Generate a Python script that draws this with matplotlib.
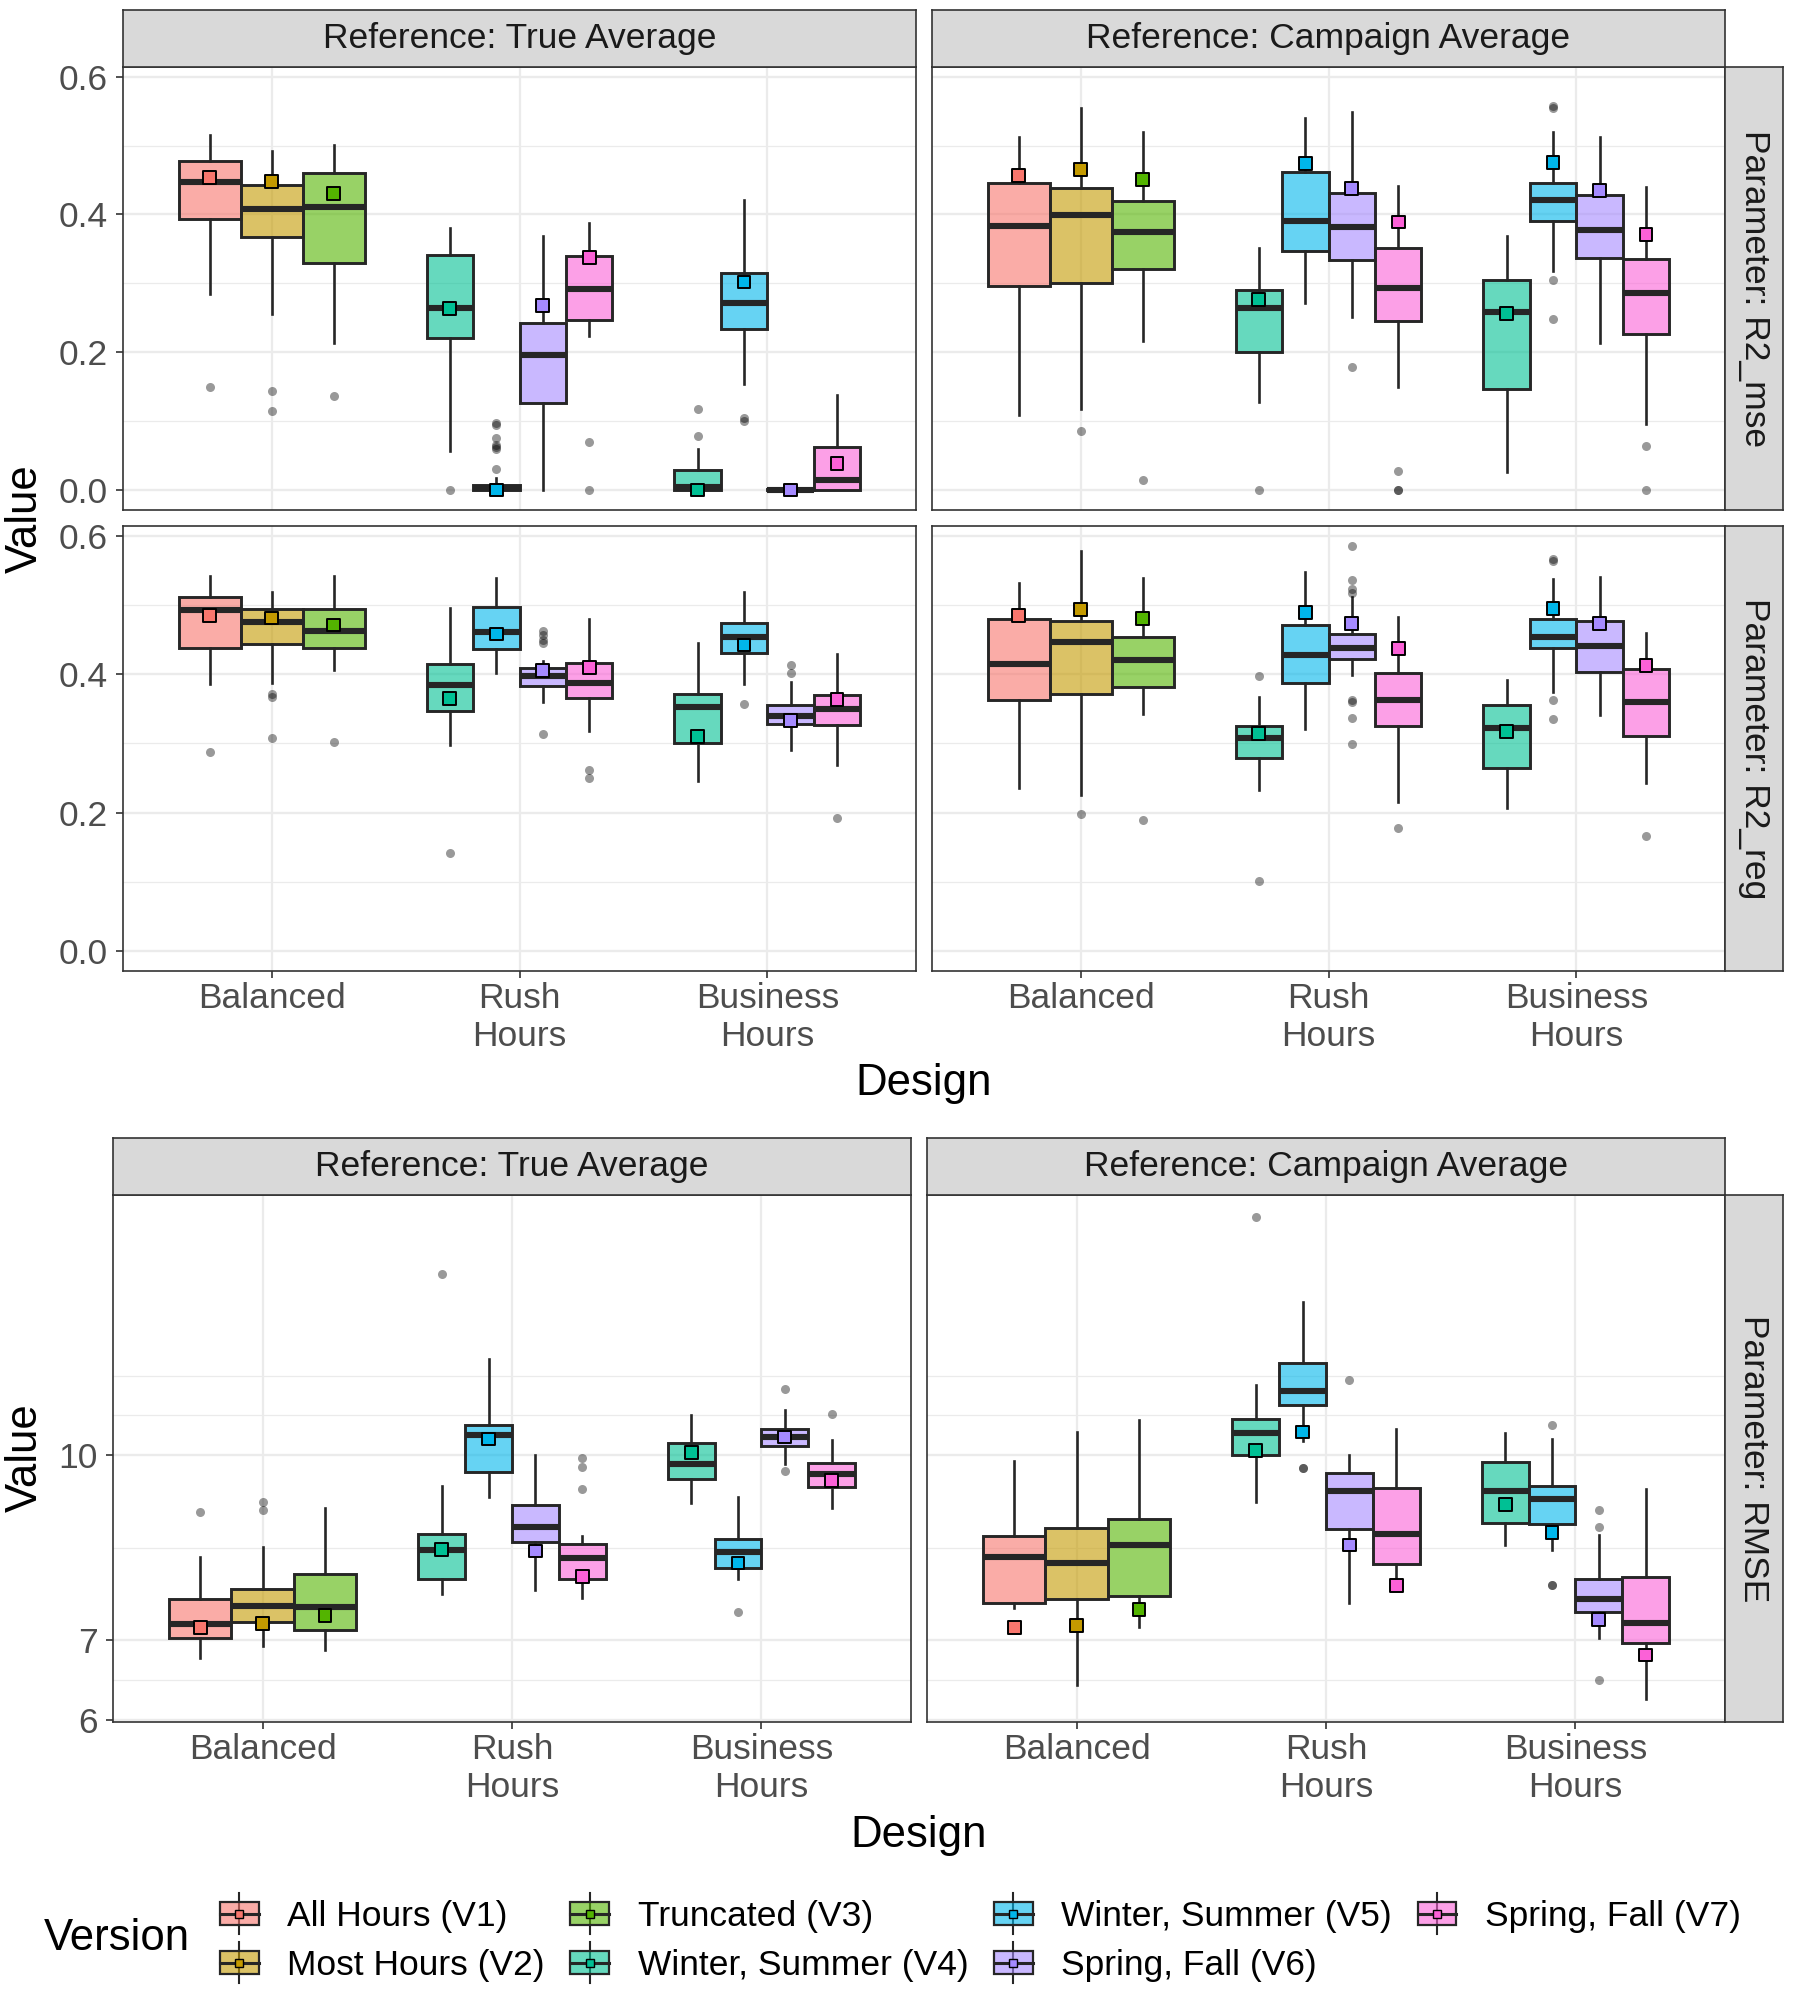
import numpy as np
import matplotlib
matplotlib.use("Agg")
import matplotlib.pyplot as plt
from matplotlib.patches import Rectangle, Patch
from matplotlib.lines import Line2D
from matplotlib.legend_handler import HandlerBase
from matplotlib.colors import to_rgba
from matplotlib.ticker import FixedLocator, NullLocator, FixedFormatter

plt.rcParams['font.family'] = ['Liberation Sans', 'DejaVu Sans']

# ---------------- data ----------------
versions = ["All Hours (V1)", "Most Hours (V2)", "Truncated (V3)", "Winter, Summer (V4)",
            "Winter, Summer (V5)", "Spring, Fall (V6)", "Spring, Fall (V7)"]
version_colors = ["#F8766D", "#C49A00", "#53B400", "#00C094", "#00B6EB", "#A58AFF", "#FB61D7"]
designs = ["Balanced", "Rush\nHours", "Business\nHours"]
design_versions = [[0, 1, 2], [3, 4, 5, 6], [3, 4, 5, 6]]
references = ["Reference: True Average", "Reference: Campaign Average"]
parameters = ["Parameter: R2_mse", "Parameter: R2_reg", "Parameter: RMSE"]

# R2_mse, True Average (box order: Balanced V1-V3, Rush V4-V7, Business V4-V7)
mse_true_lo = [0.284, 0.255, 0.213, 0.056, 0.000, 0.000, 0.224, 0.000, 0.154, 0.000, 0.000]
mse_true_q1 = [0.393, 0.367, 0.330, 0.220, 0.000, 0.127, 0.247, 0.000, 0.234, 0.000, 0.000]
mse_true_med = [0.447, 0.408, 0.411, 0.264, 0.003, 0.196, 0.292, 0.004, 0.271, 0.000, 0.015]
mse_true_q3 = [0.477, 0.443, 0.460, 0.341, 0.008, 0.243, 0.340, 0.029, 0.315, 0.002, 0.062]
mse_true_hi = [0.515, 0.492, 0.501, 0.380, 0.018, 0.369, 0.388, 0.060, 0.421, 0.004, 0.138]
mse_true_mean = [0.454, 0.448, 0.430, 0.264, 0.000, 0.268, 0.337, 0.000, 0.302, 0.000, 0.039]
mse_true_out = [[0.150], [0.143, 0.115], [0.136], [0.0],
                [0.097, 0.095, 0.076, 0.066, 0.063, 0.060, 0.031], [], [0.070, 0.0],
                [0.118, 0.079], [0.104, 0.100], [], []]

# R2_mse, Campaign Average
mse_camp_lo = [0.109, 0.117, 0.216, 0.128, 0.272, 0.251, 0.149, 0.026, 0.318, 0.214, 0.096]
mse_camp_q1 = [0.296, 0.300, 0.321, 0.201, 0.347, 0.334, 0.245, 0.146, 0.391, 0.337, 0.227]
mse_camp_med = [0.383, 0.399, 0.375, 0.264, 0.390, 0.382, 0.293, 0.258, 0.421, 0.378, 0.286]
mse_camp_q3 = [0.446, 0.438, 0.419, 0.290, 0.461, 0.431, 0.352, 0.305, 0.446, 0.428, 0.336]
mse_camp_hi = [0.512, 0.555, 0.520, 0.352, 0.540, 0.549, 0.441, 0.369, 0.520, 0.512, 0.440]
mse_camp_mean = [0.456, 0.465, 0.451, 0.276, 0.474, 0.438, 0.389, 0.256, 0.475, 0.435, 0.371]
mse_camp_out = [[], [0.085], [0.015], [0.0], [], [0.178], [0.028, 0.0, 0.0], [],
                [0.557, 0.555, 0.305, 0.248], [], [0.064, 0.0]]

# R2_reg, True Average
reg_true_lo = [0.386, 0.387, 0.406, 0.297, 0.402, 0.359, 0.318, 0.245, 0.386, 0.291, 0.268]
reg_true_q1 = [0.437, 0.444, 0.437, 0.346, 0.436, 0.383, 0.365, 0.300, 0.431, 0.328, 0.327]
reg_true_med = [0.492, 0.475, 0.463, 0.384, 0.461, 0.397, 0.387, 0.353, 0.454, 0.339, 0.350]
reg_true_q3 = [0.512, 0.494, 0.494, 0.415, 0.497, 0.409, 0.416, 0.371, 0.474, 0.355, 0.370]
reg_true_hi = [0.542, 0.519, 0.542, 0.495, 0.539, 0.419, 0.480, 0.445, 0.519, 0.389, 0.429]
reg_true_mean = [0.485, 0.481, 0.471, 0.365, 0.458, 0.405, 0.410, 0.310, 0.442, 0.333, 0.363]
reg_true_out = [[0.288], [0.371, 0.367, 0.307], [0.302], [0.141], [],
                [0.463, 0.457, 0.449, 0.445, 0.314], [0.262, 0.250], [], [0.357],
                [0.413, 0.402], [0.192]]

# R2_reg, Campaign Average
reg_camp_lo = [0.235, 0.225, 0.343, 0.233, 0.321, 0.399, 0.215, 0.207, 0.374, 0.341, 0.242]
reg_camp_q1 = [0.362, 0.371, 0.382, 0.279, 0.387, 0.422, 0.325, 0.264, 0.437, 0.403, 0.310]
reg_camp_med = [0.415, 0.446, 0.420, 0.308, 0.428, 0.437, 0.362, 0.322, 0.454, 0.441, 0.360]
reg_camp_q3 = [0.480, 0.477, 0.453, 0.325, 0.471, 0.458, 0.402, 0.355, 0.480, 0.477, 0.407]
reg_camp_hi = [0.531, 0.578, 0.539, 0.367, 0.547, 0.511, 0.483, 0.392, 0.537, 0.541, 0.459]
reg_camp_mean = [0.485, 0.493, 0.480, 0.314, 0.489, 0.473, 0.437, 0.317, 0.495, 0.473, 0.412]
reg_camp_out = [[], [0.198], [0.189], [0.397, 0.101], [],
                [0.585, 0.536, 0.523, 0.517, 0.362, 0.360, 0.337, 0.299], [0.177], [],
                [0.566, 0.564, 0.363, 0.335], [], [0.166]]

# RMSE, True Average
rmse_true_lo = [6.763, 6.921, 6.868, 7.656, 9.236, 7.720, 7.596, 9.130, 7.882, 9.840, 9.027]
rmse_true_q1 = [7.027, 7.256, 7.146, 7.882, 9.691, 8.457, 7.882, 9.558, 8.046, 10.18, 9.413]
rmse_true_med = [7.228, 7.482, 7.460, 8.334, 10.40, 8.717, 8.203, 9.840, 8.296, 10.36, 9.640]
rmse_true_q3 = [7.574, 7.733, 7.960, 8.586, 10.61, 9.082, 8.432, 10.25, 8.509, 10.52, 9.856]
rmse_true_hi = [8.221, 8.381, 9.027, 9.434, 12.05, 10.00, 8.555, 10.81, 9.222, 10.91, 10.30]
rmse_true_mean = [7.173, 7.228, 7.345, 8.334, 10.32, 8.315, 7.913, 10.05, 8.126, 10.36, 9.530]
rmse_true_out = [[8.957], [9.148, 8.999], [], [14.19], [], [], [9.954, 9.781, 9.363], [],
                 [7.396], [11.36, 9.70], [10.83]]

# RMSE, Campaign Average
rmse_camp_lo = [7.45, 6.420, 7.178, 9.148, 10.29, 7.516, 7.792, 8.412, 8.326, 7.027, 6.255]
rmse_camp_q1 = [7.516, 7.586, 7.625, 10.00, 11.02, 8.674, 8.116, 8.785, 8.759, 7.396, 6.963]
rmse_camp_med = [8.221, 8.126, 8.412, 10.44, 11.31, 9.327, 8.586, 9.342, 9.201, 7.574, 7.234]
rmse_camp_q3 = [8.555, 8.694, 8.842, 10.72, 11.94, 9.669, 9.384, 9.878, 9.434, 7.882, 7.913]
rmse_camp_hi = [9.90, 10.46, 10.70, 11.45, 13.44, 10.00, 10.53, 10.45, 10.33, 8.575, 9.377]
rmse_camp_mean = [7.173, 7.20, 7.425, 10.09, 10.46, 8.412, 7.78, 9.10, 8.620, 7.29, 6.804]
rmse_camp_out = [[], [], [], [15.82], [9.766, 9.766], [11.57], [], [],
                 [10.61, 7.792, 7.792], [8.999, 8.706, 6.48], []]

top_yticks = [0.0, 0.2, 0.4, 0.6]
top_yticklabels = ["0.0", "0.2", "0.4", "0.6"]
top_yminor = [0.1, 0.3, 0.5]
rmse_yticks = [6, 7, 10]
rmse_yticklabels = ["6", "7", "10"]
rmse_yminor = [6.48, 8.37, 10.80, 11.65]

# ---------------- style ----------------
W, H = 1800, 1989
EDGE = "#262626"
BORDER = "#333333"
GRID = "#EBEBEB"
TICKTXT = "#4D4D4D"
FS_TICK = 25.5
FS_TITLE = 31.5
ALPHA = 0.6

fig = plt.figure(figsize=(W / 100, H / 100), dpi=100)


def px_axes(x0, y0, x1, y1, **kw):
    return fig.add_axes([x0 / W, 1 - y1 / H, (x1 - x0) / W, (y1 - y0) / H], **kw)


positions, widths, box_colors = [], [], []
for d, vs in enumerate(design_versions):
    n = len(vs)
    w = 0.75 / n
    for i, v in enumerate(vs):
        positions.append(d + 1 + (i - (n - 1) / 2) * w)
        widths.append(w)
        box_colors.append(version_colors[v])


def style_spines(ax):
    for s in ax.spines.values():
        s.set_color(BORDER)
        s.set_linewidth(1.2)


def draw_panel(ax, lo, q1, med, q3, hi, mean, out, log, ylim, yticks, ylabels, yminor,
               show_y, show_x):
    if log:
        ax.set_yscale("log")
    ax.set_xlim(0.4, 3.6)
    ax.set_ylim(*ylim)
    for m in yminor:
        ax.axhline(m, color=GRID, lw=0.9, zorder=0)
    for m in yticks:
        ax.axhline(m, color=GRID, lw=1.7, zorder=0)
    for xc in range(1, len(designs) + 1):
        ax.axvline(xc, color=GRID, lw=1.6, zorder=0)
    stats = [dict(med=med[i], q1=q1[i], q3=q3[i], whislo=lo[i], whishi=hi[i], fliers=out[i])
             for i in range(len(med))]
    art = ax.bxp(stats, positions=positions, widths=widths, patch_artist=True,
                 showcaps=False, showfliers=True, manage_ticks=False,
                 boxprops=dict(edgecolor=EDGE, linewidth=2.1),
                 medianprops=dict(color=EDGE, linewidth=4.4, solid_capstyle="butt"),
                 whiskerprops=dict(color=EDGE, linewidth=1.9),
                 flierprops=dict(marker="o", markerfacecolor="black", markeredgecolor="none",
                                 alpha=0.4, markersize=6.5))
    for patch, c in zip(art["boxes"], box_colors):
        patch.set_facecolor(to_rgba(c, ALPHA))
    ax.scatter(positions, mean, marker="s", s=85, c=box_colors, edgecolors="black",
               linewidths=1.4, zorder=5)
    ax.yaxis.set_major_locator(FixedLocator(yticks))
    ax.yaxis.set_major_formatter(FixedFormatter(ylabels))
    ax.yaxis.set_minor_locator(NullLocator())
    ax.set_xticks(range(1, len(designs) + 1))
    ax.set_xticklabels(designs)
    ax.tick_params(axis="y", length=5 if show_y else 0, width=1.2, color=BORDER,
                   labelsize=FS_TICK, labelcolor=TICKTXT, pad=6, labelleft=show_y)
    ax.tick_params(axis="x", length=5 if show_x else 0, width=1.2, color=BORDER,
                   labelsize=FS_TICK, labelcolor=TICKTXT, pad=3, labelbottom=show_x)
    for lbl in ax.get_xticklabels():
        lbl.set_linespacing(1.2)
    style_spines(ax)


def strip(x0, y0, x1, y1, text, rot=0):
    ax = px_axes(x0, y0, x1, y1)
    ax.set_facecolor("#D9D9D9")
    ax.set_xticks([])
    ax.set_yticks([])
    style_spines(ax)
    ax.text(0.5, 0.5, text, transform=ax.transAxes, ha="center", va="center",
            fontsize=FS_TICK, color="#1A1A1A", rotation=rot, rotation_mode="anchor")


# ---------------- top block: R2_mse and R2_reg ----------------
top_cols = [(123, 916), (932, 1725)]
top_rows = [(67, 510), (526, 971)]
top_ylim = (-0.029, 0.614)
top_data = [
    [(mse_true_lo, mse_true_q1, mse_true_med, mse_true_q3, mse_true_hi, mse_true_mean, mse_true_out),
     (mse_camp_lo, mse_camp_q1, mse_camp_med, mse_camp_q3, mse_camp_hi, mse_camp_mean, mse_camp_out)],
    [(reg_true_lo, reg_true_q1, reg_true_med, reg_true_q3, reg_true_hi, reg_true_mean, reg_true_out),
     (reg_camp_lo, reg_camp_q1, reg_camp_med, reg_camp_q3, reg_camp_hi, reg_camp_mean, reg_camp_out)],
]
for r, (y0, y1) in enumerate(top_rows):
    for c, (x0, x1) in enumerate(top_cols):
        ax = px_axes(x0, y0, x1, y1)
        draw_panel(ax, *top_data[r][c], log=False, ylim=top_ylim, yticks=top_yticks,
                   ylabels=top_yticklabels, yminor=top_yminor, show_y=(c == 0), show_x=(r == 1))
    strip(1725, y0, 1783, y1, parameters[r], rot=270)
for c, (x0, x1) in enumerate(top_cols):
    strip(x0, 10, x1, 67, references[c])

fig.text(924 / W, 1 - 1084 / H, "Design", ha="center", va="center", fontsize=FS_TITLE)
fig.text(25 / W, 1 - 519 / H, "Value", ha="center", va="center", rotation=90, fontsize=FS_TITLE)

# ---------------- bottom block: RMSE ----------------
bot_cols = [(113, 911), (927, 1725)]
bot_y = (1195, 1722)
bot_ylim = (5.98, 16.52)
bot_data = [
    (rmse_true_lo, rmse_true_q1, rmse_true_med, rmse_true_q3, rmse_true_hi, rmse_true_mean, rmse_true_out),
    (rmse_camp_lo, rmse_camp_q1, rmse_camp_med, rmse_camp_q3, rmse_camp_hi, rmse_camp_mean, rmse_camp_out),
]
for c, (x0, x1) in enumerate(bot_cols):
    ax = px_axes(x0, bot_y[0], x1, bot_y[1])
    draw_panel(ax, *bot_data[c], log=True, ylim=bot_ylim, yticks=rmse_yticks,
               ylabels=rmse_yticklabels, yminor=rmse_yminor, show_y=(c == 0), show_x=True)
    strip(x0, 1138, x1, 1195, references[c])
strip(1725, bot_y[0], 1783, bot_y[1], parameters[2], rot=270)

fig.text(919 / W, 1 - 1835 / H, "Design", ha="center", va="center", fontsize=FS_TITLE)
fig.text(25 / W, 1 - 1458 / H, "Value", ha="center", va="center", rotation=90, fontsize=FS_TITLE)


# ---------------- legend ----------------
class BoxKey(HandlerBase):
    def create_artists(self, legend, orig_handle, xdescent, ydescent, width, height,
                       fontsize, trans):
        col = orig_handle.get_facecolor()
        x0, y0 = -xdescent, -ydescent
        cx, cy = x0 + width / 2, y0 + height / 2
        wh = Line2D([cx, cx], [y0 - 0.38 * height, y0 + 1.38 * height], color=EDGE, lw=1.5,
                    transform=trans)
        rect = Rectangle((x0, y0), width, height, facecolor=to_rgba(col, ALPHA), edgecolor=EDGE,
                         lw=1.6, transform=trans)
        md = Line2D([x0, x0 + width], [cy, cy], color=EDGE, lw=2.2, transform=trans)
        mn = Line2D([cx], [cy], marker="s", markersize=6, markerfacecolor=to_rgba(col, 1.0),
                    markeredgecolor="black", markeredgewidth=1.0, linestyle="none", transform=trans)
        return [wh, rect, md, mn]


handles = [Patch(facecolor=c, label=v) for c, v in zip(version_colors, versions)]
fig.legend(handles=handles, labels=versions, handler_map={Patch: BoxKey()}, ncol=4,
           loc="center left", bbox_to_anchor=(220 / W, 1 - 1941 / H), frameon=False,
           fontsize=FS_TICK, handlelength=1.1, handleheight=0.65, handletextpad=0.8,
           columnspacing=0.72, labelspacing=0.45, borderpad=0, borderaxespad=0)
fig.text(44 / W, 1 - 1938 / H, "Version", ha="left", va="center", fontsize=FS_TITLE)

fig.savefig("out.png", dpi=100)
